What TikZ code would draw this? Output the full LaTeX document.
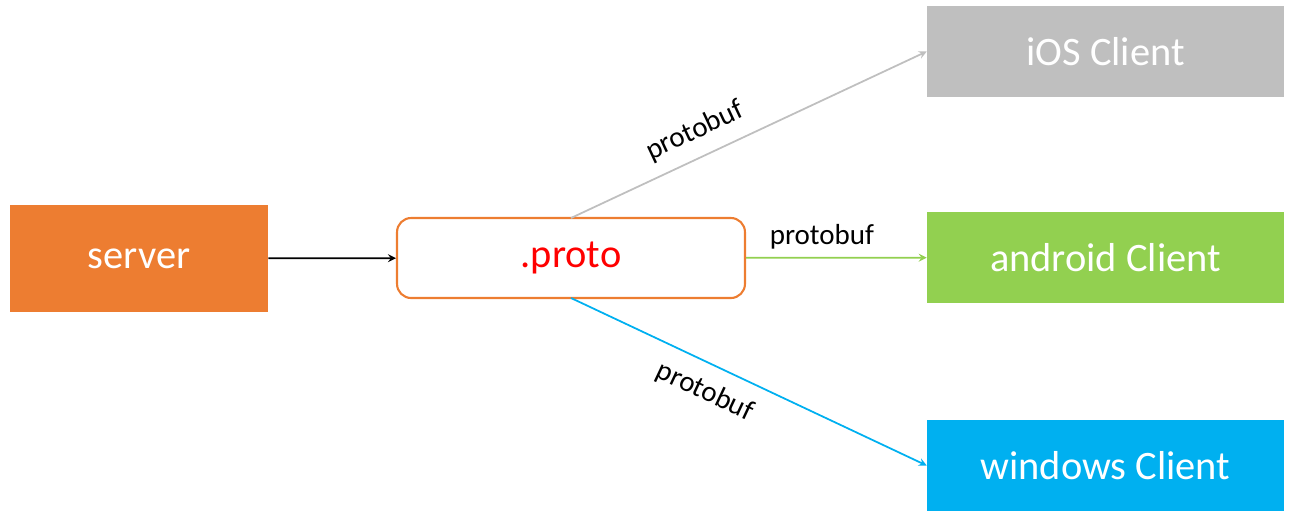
\documentclass[tikz,border=0pt]{standalone}
\usepackage{fontspec}
\setmainfont{Carlito}
\usetikzlibrary{positioning}
\definecolor{srvorange}{HTML}{ED7D31}
\definecolor{andgreen}{HTML}{92D050}
\definecolor{winblue}{HTML}{00B0F0}
\definecolor{iosgray}{HTML}{BFBFBF}
\begin{document}
\begin{tikzpicture}[x=0.02cm,y=-0.02cm,>=stealth]
\tikzset{
  client/.style={minimum width=7.14cm, minimum height=1.82cm, text=white, font=\fontsize{23}{27}\selectfont, inner sep=0pt},
  lbl/.style={font=\fontsize{16.5}{20}\selectfont, text=black}
}
\useasboundingbox (0,0) rectangle (1316,522);

% Boxes
\node[client, fill=srvorange, minimum width=5.16cm, minimum height=2.14cm] (server) at (139,258.5) {server};
\node[draw=srvorange, line width=1.2pt, rounded corners=8pt, minimum width=6.96cm, minimum height=1.6cm, text=red, font=\fontsize{23}{27}\selectfont] (proto) at (571,258) {.proto};
\node[client, fill=iosgray] (ios) at (1105.5,51.5) {iOS Client};
\node[client, fill=andgreen] (android) at (1105.5,257.5) {android Client};
\node[client, fill=winblue] (windows) at (1105.5,465.5) {windows Client};

% Connectors
\coordinate (ptop) at (571,218);
\coordinate (pbot) at (571,298);
\draw[->, line width=1pt] (server) -- (proto);
\draw[->, line width=1pt, iosgray] (ptop) -- (ios.west) node[lbl, pos=0.38, above=4pt, sloped] {protobuf};
\draw[->, line width=1pt, andgreen] (proto) -- (android) node[lbl, pos=0.42, above=1pt] {protobuf};
\draw[->, line width=1pt, winblue] (pbot) -- (windows.west) node[lbl, pos=0.41, below=5pt, sloped] {protobuf};

\end{tikzpicture}
\end{document}
